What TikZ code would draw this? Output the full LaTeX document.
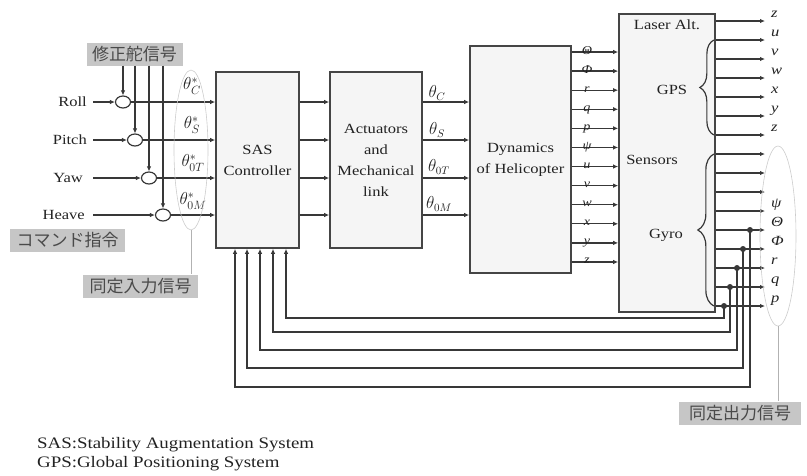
\documentclass[tikz,border=0pt]{standalone}
\usepackage{fontspec}
\setmainfont{Liberation Serif}[FakeStretch=1.18]
\newfontfamily\jpfont{Noto Sans CJK JP}
\usetikzlibrary{arrows.meta,shapes.geometric,decorations.pathreplacing}
\definecolor{linec}{HTML}{383838}
\definecolor{boxc}{HTML}{454545}
\definecolor{txtc}{HTML}{222222}
\definecolor{jpfill}{HTML}{C6C6C6}
\definecolor{jptext}{HTML}{4A4A4A}
\definecolor{boxfill}{HTML}{F5F5F5}
\begin{document}
\begin{tikzpicture}[x=1pt,y=-1pt,
  ln/.style={draw=linec, line width=1.2pt},
  arr/.style={ln, -{Latex[length=5pt,width=4.5pt]}},
  blk/.style={draw=boxc, line width=1.7pt, fill=boxfill, inner sep=0pt, text=txtc, align=center, font=\fontsize{14}{21}\selectfont},
  lbl/.style={text=txtc, font=\fontsize{14}{21}\selectfont, inner sep=0pt},
  sml/.style={text=txtc, font=\fontsize{12}{12}\selectfont\itshape, inner sep=0pt},
  outl/.style={text=txtc, font=\fontsize{14}{14}\selectfont\itshape, inner sep=0pt},
  jp/.style={fill=jpfill, text=jptext, font=\jpfont\fontsize{17}{19}\selectfont, minimum height=23pt, inner sep=0pt},
  sumj/.style={ellipse, draw=linec, line width=1.2pt, fill=white, minimum width=15pt, minimum height=12pt, inner sep=0pt},
  jdot/.style={circle, fill=linec, minimum size=6pt, inner sep=0pt},
  ell/.style={ellipse, draw=gray!40, line width=0.6pt, inner sep=0pt},
  th/.style={text=txtc, font=\fontsize{17}{17}\selectfont, inner sep=0pt}
]
\useasboundingbox (0,0) rectangle (807,475);

% main blocks
\node[blk, minimum width=83pt, minimum height=176pt] (sas) at (257.5,160) {SAS\\Controller};
\node[blk, minimum width=92pt, minimum height=176pt] (act) at (376,160) {Actuators\\and\\Mechanical\\link};
\node[blk, minimum width=101pt, minimum height=227pt] (dyn) at (520.5,159.5) {Dynamics\\of Helicopter};
\node[blk, minimum width=96pt, minimum height=298pt] (sen) at (667,163) {};
\node[lbl] (tlaser) at (667,25) {Laser Alt.};
\node[lbl] (tgps) at (672,90) {GPS};
\node[lbl] (tsens) at (652,160) {Sensors};
\node[lbl] (tgyro) at (666,235) {Gyro};

% rows
\coordinate (r1) at (0,102);
\coordinate (r2) at (0,140);
\coordinate (r3) at (0,178);
\coordinate (r4) at (0,215);
\coordinate (instart) at (93,0);

% inputs
\node[lbl, anchor=east] (roll) at (87,102) {Roll};
\node[lbl, anchor=east] (pitch) at (87,140) {Pitch};
\node[lbl, anchor=east] (yaw) at (83,178) {Yaw};
\node[lbl, anchor=east] (heave) at (85,215) {Heave};

\node[sumj] (c1) at (123,102) {};
\node[sumj] (c2) at (135,140) {};
\node[sumj] (c3) at (149,178) {};
\node[sumj] (c4) at (163,215) {};

\draw[arr] (instart |- roll) -- (c1.west);
\draw[arr] (instart |- pitch) -- (c2.west);
\draw[arr] (instart |- yaw) -- (c3.west);
\draw[arr] (instart |- heave) -- (c4.west);

\node[jp, minimum width=96pt] (fix) at (134.5,54) {修正舵信号};
\node[jp, minimum width=115pt] (cmd) at (67.5,240) {コマンド指令};
\node[jp, minimum width=115pt] (inbox) at (140.5,286) {同定入力信号};
\node[jp, minimum width=122pt] (outbox) at (740,413) {同定出力信号};

\draw[arr] (fix.south -| c1) -- (c1.north);
\draw[arr] (fix.south -| c2) -- (c2.north);
\draw[arr] (fix.south -| c3) -- (c3.north);
\draw[arr] (fix.south -| c4) -- (c4.north);

\draw[arr] (c1.east) -- (sas.west |- c1);
\draw[arr] (c2.east) -- (sas.west |- c2);
\draw[arr] (c3.east) -- (sas.west |- c3);
\draw[arr] (c4.east) -- (sas.west |- c4);

% theta* labels
\node[th] (ts1) at (192,86) {$\theta^{*}_{C}$};
\node[th] (ts2) at (192,125) {$\theta^{*}_{S}$};
\node[th] (ts3) at (193,163) {$\theta^{*}_{0T}$};
\node[th] (ts4) at (193,201) {$\theta^{*}_{0M}$};
\node[ell, minimum width=34pt, minimum height=160pt] (inell) at (191,150) {};
\draw[draw=gray!60, line width=0.8pt] (inell.south) -- (inell.south |- inbox.north);

% SAS -> actuators -> dynamics
\foreach \r in {r1,r2,r3,r4}{
  \draw[arr] (sas.east |- \r) -- (act.west |- \r);
  \draw[arr] (act.east |- \r) -- (dyn.west |- \r);
}
\node[th, font=\fontsize{16}{16}\selectfont] (ta1) at (437,93) {$\theta_{C}$};
\node[th, font=\fontsize{16}{16}\selectfont] (ta2) at (437,130) {$\theta_{S}$};
\node[th, font=\fontsize{16}{16}\selectfont] (ta3) at (439,167) {$\theta_{0T}$};
\node[th, font=\fontsize{16}{16}\selectfont] (ta4) at (439,204) {$\theta_{0M}$};

% dynamics -> sensors
\foreach \i/\t in {0/Θ,1/Φ,2/r,3/q,4/p,5/ψ,6/u,7/v,8/w,9/x,10/y,11/z}{
  \pgfmathsetmacro\yy{52+19.09*\i}
  \coordinate (dy\i) at (587,\yy);
  \draw[arr] (dyn.east |- dy\i) -- (sen.west |- dy\i);
  \node[sml, anchor=base] (dl\i) at ([yshift=-2pt]dy\i) {\t};
}

% sensor outputs
\foreach \i in {0,...,15}{
  \pgfmathsetmacro\yy{21+19*\i}
  \coordinate (so\i) at (765,\yy);
  \draw[arr] (sen.east |- so\i) -- (so\i);
}
\foreach \i/\t in {0/z,1/u,2/v,3/w,4/x,5/y,6/z,10/ψ,11/Θ,12/Φ,13/r,14/q,15/p}{
  \node[outl, anchor=base west] (ol\i) at ([xshift=6pt,yshift=4pt]so\i) {\t};
}

% braces
\draw[ln, decorate, decoration={brace, amplitude=14pt}] ([xshift=-2pt]sen.east |- so6) -- ([xshift=-2pt]sen.east |- so1);
\draw[ln, decorate, decoration={brace, amplitude=16pt}] ([xshift=-2pt]sen.east |- so15) -- ([xshift=-2pt]sen.east |- so7);

% output ellipse
\node[ell, minimum width=36pt, minimum height=180pt] (outell) at (778,236) {};
\draw[draw=gray!60, line width=0.8pt] (outell.south) -- (outell.south |- outbox.north);

% feedback
\node[jdot] (dT) at (750,230) {};
\node[jdot] (dP) at (743,249) {};
\node[jdot] (dr) at (737,268) {};
\node[jdot] (dq) at (730,287) {};
\node[jdot] (dp) at (724,306) {};
\coordinate (fT) at (235,387);
\coordinate (fP) at (247,368);
\coordinate (fr) at (260,350);
\coordinate (fq) at (273,332);
\coordinate (fp) at (286,318);
\draw[arr] (dT.center) |- (fT) -- (sas.south -| fT);
\draw[arr] (dP.center) |- (fP) -- (sas.south -| fP);
\draw[arr] (dr.center) |- (fr) -- (sas.south -| fr);
\draw[arr] (dq.center) |- (fq) -- (sas.south -| fq);
\draw[arr] (dp.center) |- (fp) -- (sas.south -| fp);

% notes
\node[lbl, anchor=base west, font=\fontsize{16}{16}\selectfont] (note1) at (37,448) {SAS:Stability Augmentation System};
\node[lbl, anchor=base west, font=\fontsize{16}{16}\selectfont] (note2) at (37,467) {GPS:Global Positioning System};
\end{tikzpicture}
\end{document}
